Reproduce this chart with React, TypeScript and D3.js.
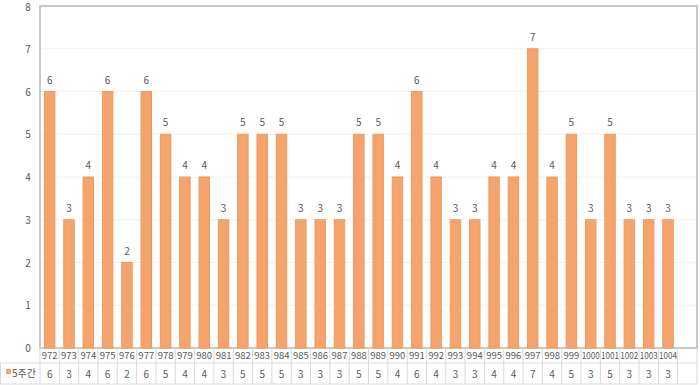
import React from "react";
import * as d3 from "d3";

const categories = ["972","973","974","975","976","977","978","979","980","981","982","983","984","985","986","987","988","989","990","991","992","993","994","995","996","997","998","999","1000","1001","1002","1003","1004",""];
const values: (number | null)[] = [6,3,4,6,2,6,5,4,4,3,5,5,5,3,3,3,5,5,4,6,4,3,3,4,4,7,4,5,3,5,3,3,3,null];
const yTicks = [0,1,2,3,4,5,6,7,8];
const seriesName = "5주간";

export default function App() {
  const W = 700, H = 385;
  const left = 40, right = 697, top = 6, bottom = 348;
  const row1 = 363, row2 = 384;
  const x = d3.scaleBand<string>().domain(categories.map((c, i) => i + "")).range([left, right]).paddingInner(0.46).paddingOuter(0.23);
  const xb = d3.scaleBand<string>().domain(categories.map((c, i) => i + "")).range([left, right]);
  const y = d3.scaleLinear().domain([0, 8]).range([bottom, top]);
  const font = "'Malgun Gothic', 'Noto Sans CJK KR', 'Noto Sans', sans-serif";
  const grey = "#595959";
  const lineC = "#D9D9D9";
  return (
    <svg width={W} height={H} style={{ position: "absolute", left: 0, top: 0, background: "#fff" }} fontFamily={font}>
      {yTicks.map(t => (
        <g key={t}>
          <line x1={left} x2={right} y1={y(t)} y2={y(t)} stroke="#F2F2F2" strokeWidth={1} />
          <text x={28} y={Math.max(y(t) + 4, 11)} textAnchor="middle" fontSize={10} fill={grey}>{t}</text>
        </g>
      ))}
      <rect x={left} y={top} width={right - left} height={bottom - top} fill="none" stroke="#C8C8C8" strokeWidth={2} />
      {values.map((v, i) => v == null ? null : (
        <g key={i}>
          <rect x={x(i + "")!} y={y(v)} width={x.bandwidth()} height={bottom - y(v)} fill="#F4A46C" stroke="#EE9A5C" strokeWidth={1} />
          <text x={x(i + "")! + x.bandwidth() / 2} y={y(v) - 8} textAnchor="middle" fontSize={10} fill={grey}>{v}</text>
        </g>
      ))}
      {/* data table */}
      <line x1={left} x2={right} y1={row1} y2={row1} stroke={lineC} />
      <line x1={0} x2={right} y1={row2} y2={row2} stroke={lineC} />
      <line x1={0} x2={left} y1={row1} y2={row1} stroke={lineC} />
      <line x1={0.5} x2={0.5} y1={row1} y2={row2} stroke={lineC} />
      {categories.map((c, i) => (
        <g key={"t" + i}>
          <line x1={xb(i + "")!} x2={xb(i + "")!} y1={bottom} y2={row2} stroke={lineC} />
          {c.length > 3 ? (
            <text x={xb(i + "")! + xb.bandwidth() / 2} y={row1 - 4} textAnchor="middle" fontSize={9.5} fill={grey} textLength={18} lengthAdjust="spacingAndGlyphs">{c}</text>
          ) : (
            <text x={xb(i + "")! + xb.bandwidth() / 2} y={row1 - 4} textAnchor="middle" fontSize={9.5} fill={grey}>{c}</text>
          )}
          <text x={xb(i + "")! + xb.bandwidth() / 2} y={row2 - 6} textAnchor="middle" fontSize={10} fill={grey}>{values[i] == null ? "" : values[i]}</text>
        </g>
      ))}
      <line x1={right} x2={right} y1={bottom} y2={row2} stroke={lineC} />
      <rect x={6} y={369} width={5} height={5} fill="#F4A46C" />
      <text x={12} y={row2 - 7} fontSize={10} fill={grey}>{seriesName}</text>
    </svg>
  );
}
